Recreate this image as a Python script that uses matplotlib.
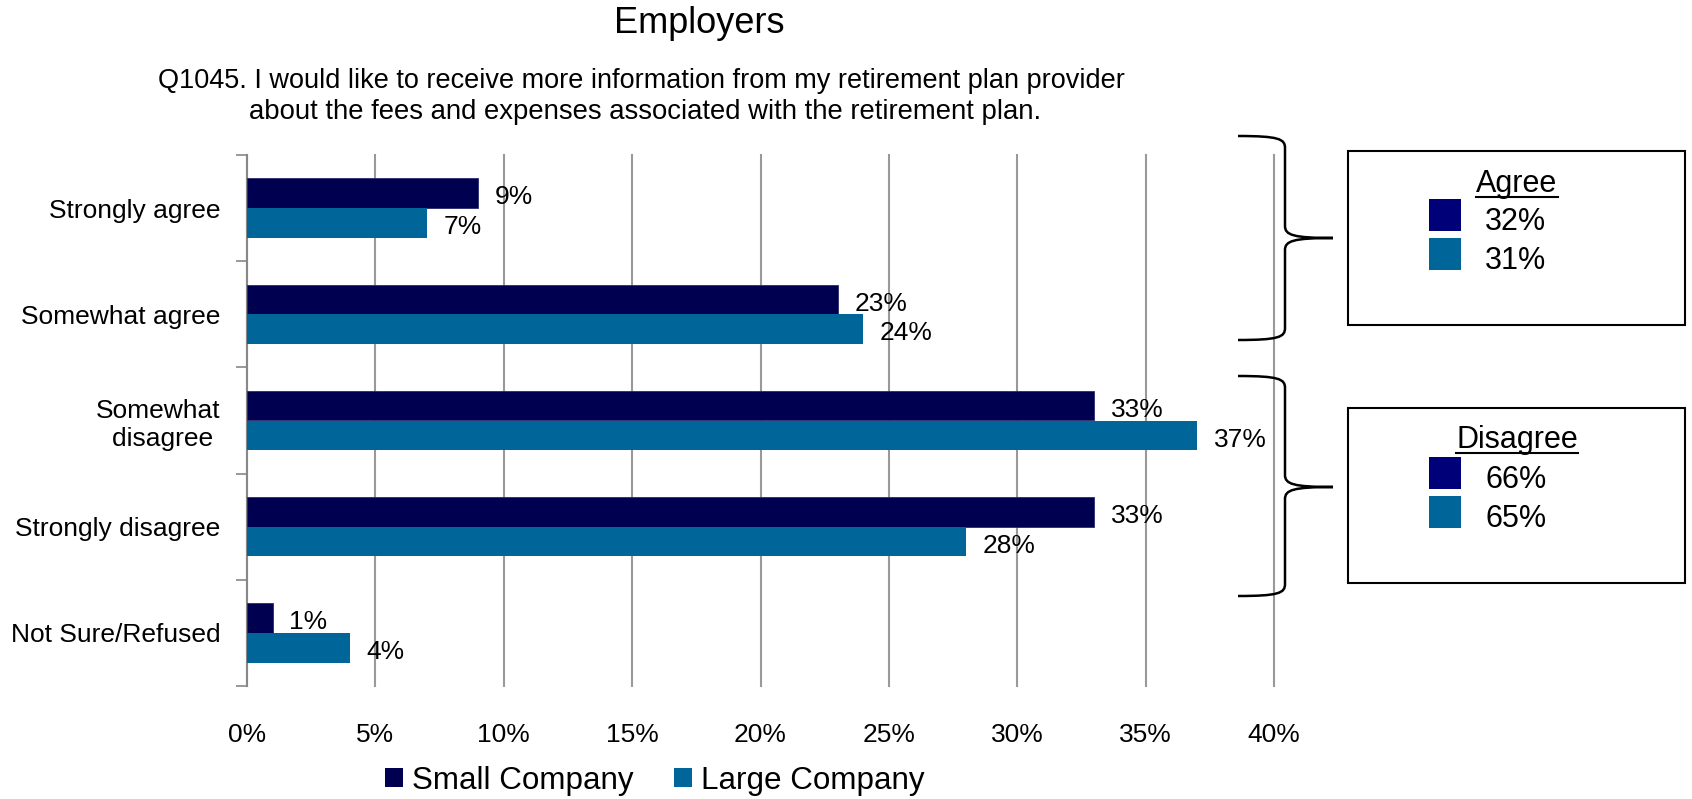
import matplotlib
matplotlib.use("Agg")
import matplotlib.pyplot as plt
from matplotlib.patches import Patch, Rectangle, PathPatch
from matplotlib.path import Path
from matplotlib.lines import Line2D

plt.rcParams['font.family'] = ['Liberation Sans', 'DejaVu Sans']

# survey answers, percent of respondents
categories = ['Strongly agree', 'Somewhat agree', 'Somewhat\ndisagree ',
              'Strongly disagree', 'Not Sure/Refused']
small_company = [9, 23, 33, 33, 1]
large_company = [7, 24, 37, 28, 4]
x_ticks = [0, 5, 10, 15, 20, 25, 30, 35, 40]

# net agree / disagree totals
agree_small = small_company[0] + small_company[1]
agree_large = large_company[0] + large_company[1]
disagree_small = small_company[2] + small_company[3]
disagree_large = large_company[2] + large_company[3]

small_color = '#000050'
large_color = '#006699'
box_small_color = '#000078'

W, H = 1692, 799
fig = plt.figure(figsize=(W / 100, H / 100), dpi=100)


def fx(px):
    return px / W


def fy(py):
    return 1 - py / H


ax = fig.add_axes([fx(247), fy(686), fx(1274 - 247), (686 - 155) / H])

pos = list(range(len(categories)))
bh = 0.28
ax.barh([p - bh / 2 for p in pos], small_company, height=bh, color=small_color,
        edgecolor='#2a2a70', linewidth=0.6, zorder=3)
ax.barh([p + bh / 2 for p in pos], large_company, height=bh, color=large_color,
        zorder=3)

# value labels at the end of each bar
for i, v in enumerate(small_company):
    ax.annotate(str(v) + '%', (v, i - bh / 2), xytext=(12, -3),
                textcoords='offset points', va='center', ha='left', fontsize=19)
for i, v in enumerate(large_company):
    ax.annotate(str(v) + '%', (v, i + bh / 2), xytext=(12, -3),
                textcoords='offset points', va='center', ha='left', fontsize=19)

ax.set_xlim(0, 40)
ax.set_ylim(len(categories) - 0.5, -0.5)
ax.set_xticks(x_ticks)
ax.set_xticklabels([str(t) + '%' for t in x_ticks], fontsize=19)
ax.tick_params(axis='x', length=0, pad=27)
ax.set_yticks(pos)
ax.set_yticklabels(categories, fontsize=19)
ax.tick_params(axis='y', which='major', length=0, pad=19)
ax.set_yticks([p - 0.5 for p in range(len(categories) + 1)], minor=True)
ax.tick_params(axis='y', which='minor', length=8, width=1.2, color='#888888')
for lbl in ax.get_yticklabels():
    lbl.set_multialignment('right')

ax.grid(axis='x', color='#999999', linewidth=1.5, zorder=0)
ax.grid(axis='y', visible=False)
for gl in ax.get_xgridlines():
    gl.set_clip_on(False)
for s in ['top', 'right', 'bottom']:
    ax.spines[s].set_visible(False)
ax.spines['left'].set_color('#888888')
ax.spines['left'].set_linewidth(1.5)

# titles
fig.text(fx(699), fy(33), 'Employers', ha='center', va='baseline', fontsize=26)
fig.text(fx(158), fy(88), 'Q1045. I would like to receive more information from my retirement plan provider',
         ha='left', va='baseline', fontsize=19.5)
fig.text(fx(249), fy(119), 'about the fees and expenses associated with the retirement plan.',
         ha='left', va='baseline', fontsize=19.8)

# bottom legend
handles = [Patch(facecolor=small_color, label='Small Company'),
           Patch(facecolor=large_color, label='Large Company')]
fig.legend(handles=handles, loc='center', bbox_to_anchor=(fx(655), fy(781)),
           ncol=2, frameon=False, fontsize=22.6, handlelength=0.55,
           handleheight=0.55, handletextpad=0.3, columnspacing=1.3,
           borderpad=0)


def brace(x0, xv, tip, top, mid, bot):
    r = 12
    verts = [(x0, top), (xv - 6, top), (xv, top + 3), (xv, top + r),
             (xv, mid - r),
             (xv, mid - 3), (xv + 8, mid), (tip, mid),
             (xv + 8, mid), (xv, mid + 3), (xv, mid + r),
             (xv, bot - r),
             (xv, bot - 3), (xv - 6, bot), (x0, bot)]
    codes = [Path.MOVETO, Path.CURVE4, Path.CURVE4, Path.CURVE4,
             Path.LINETO,
             Path.CURVE4, Path.CURVE4, Path.CURVE4,
             Path.CURVE4, Path.CURVE4, Path.CURVE4,
             Path.LINETO,
             Path.CURVE4, Path.CURVE4, Path.CURVE4]
    verts = [(fx(a), fy(b)) for a, b in verts]
    fig.patches.append(PathPatch(Path(verts, codes), facecolor='none',
                                 edgecolor='black', linewidth=1.8,
                                 transform=fig.transFigure))


def summary_box(top, bot, title, base_title, v1, v2, base1, base2):
    fig.patches.append(Rectangle((fx(1348), fy(bot)), fx(1685 - 1348), (bot - top) / H,
                                 facecolor='white', edgecolor='black', linewidth=1.5,
                                 transform=fig.transFigure))
    t = fig.text(fx(1517), fy(base_title), title, ha='center', va='baseline', fontsize=22)
    for val, base, col in [(v1, base1, box_small_color), (v2, base2, large_color)]:
        fig.patches.append(Rectangle((fx(1429), fy(base + 1)), fx(32), 32 / H,
                                     facecolor=col, edgecolor='none',
                                     transform=fig.transFigure))
        fig.text(fx(1485), fy(base), str(val) + '%', ha='left', va='baseline', fontsize=22)
    return t


brace(1238, 1285, 1333, 136, 238, 340)
brace(1238, 1285, 1333, 376, 487, 596)
t1 = summary_box(151, 325, 'Agree', 192, agree_small, agree_large, 230, 269)
t2 = summary_box(408, 583, 'Disagree', 448, disagree_small, disagree_large, 488, 527)

# underline the box headings
fig.canvas.draw()
for t, base in [(t1, 192), (t2, 448)]:
    bb = t.get_window_extent()
    fig.lines.append(Line2D([bb.x0 / W, bb.x1 / W], [fy(base + 5)] * 2,
                            color='black', linewidth=1.5, transform=fig.transFigure))

fig.savefig('out.png', dpi=100)
